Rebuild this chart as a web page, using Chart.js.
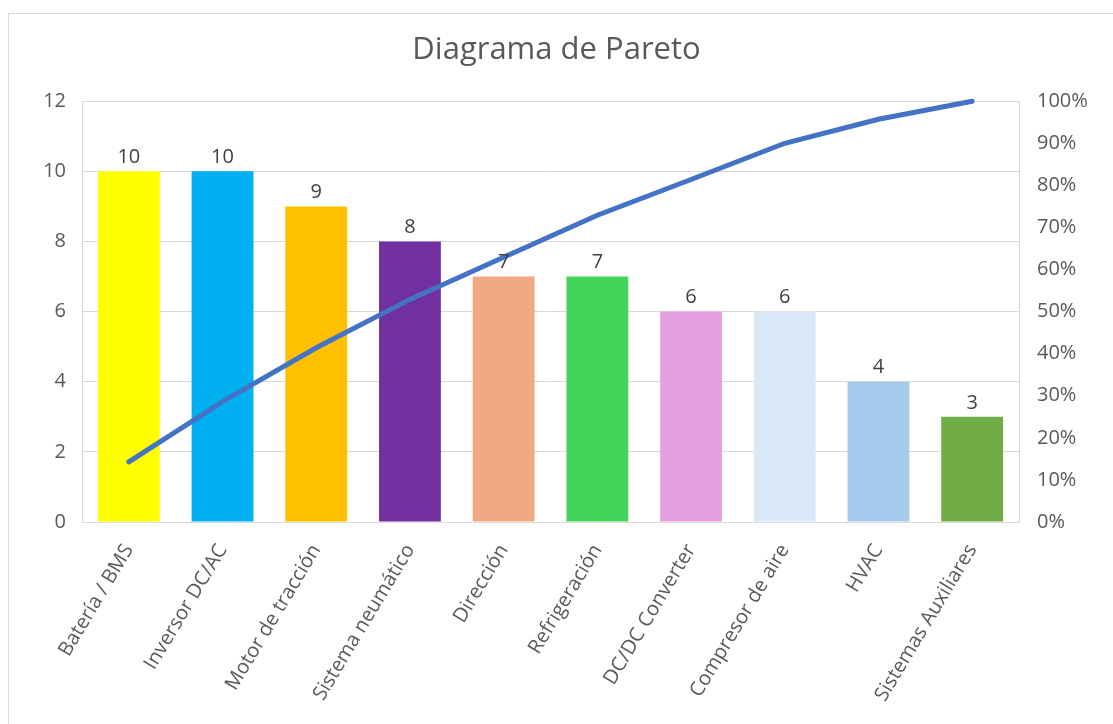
<!DOCTYPE html>
<html>
<head>
<meta charset="utf-8">
<script src="https://cdn.jsdelivr.net/npm/chart.js@4"></script>
<style>
  html, body { margin: 0; padding: 0; background: #fff; }
  #wrap { position: relative; width: 1113px; height: 724px; }
  #frame { position: absolute; left: 8px; top: 13px; width: 1120px; height: 720px;
           border-left: 1px solid #d9d9d9; border-top: 1px solid #d9d9d9; }
  canvas { position: absolute; left: 0; top: 0; }
</style>
</head>
<body>
<div id="wrap">
  <div id="frame"></div>
  <canvas id="pareto" width="1113" height="724"></canvas>
</div>
<script>
var categorias = ["Batería / BMS", "Inversor DC/AC", "Motor de tracción", "Sistema neumático",
  "Dirección", "Refrigeración", "DC/DC Converter", "Compresor de aire", "HVAC", "Sistemas Auxiliares"];
var fallas = [10, 10, 9, 8, 7, 7, 6, 6, 4, 3];
var acumulado = [14.3, 28.6, 41.4, 52.9, 62.9, 72.9, 81.4, 90.0, 95.7, 100];
var coloresBarras = ["#FFFF00", "#00B0F0", "#FFC000", "#7030A0", "#F1A983",
  "#45D45A", "#E4A0DE", "#DAE9F8", "#A6CAEC", "#70AD47"];

var gris = "#595959";
var fuente = "'Open Sans', 'DejaVu Sans', sans-serif";

// etiquetas de valor sobre cada barra
var etiquetas = {
  id: "etiquetas",
  afterDatasetsDraw: function(chart) {
    var ctx = chart.ctx;
    var meta = chart.getDatasetMeta(1);
    ctx.save();
    ctx.font = "20px " + fuente;
    ctx.fillStyle = "#404040";
    ctx.textAlign = "center";
    ctx.textBaseline = "middle";
    meta.data.forEach(function(bar, i) {
      ctx.fillText(fallas[i], bar.x, bar.y - 14);
    });
    ctx.restore();
  }
};

// borde del área de trazado
var borde = {
  id: "borde",
  beforeDatasetsDraw: function(chart) {
    var a = chart.chartArea, ctx = chart.ctx;
    ctx.save();
    ctx.strokeStyle = "#d9d9d9";
    ctx.lineWidth = 1;
    ctx.strokeRect(Math.round(a.left) + 0.5, Math.round(a.top) + 0.5,
      Math.round(a.right - a.left), Math.round(a.bottom - a.top));
    ctx.restore();
  }
};

function dibujar() {
  new Chart(document.getElementById("pareto"), {
    data: {
      labels: categorias,
      datasets: [
        {
          type: "line",
          label: "Acumulado",
          data: acumulado,
          yAxisID: "yPct",
          borderColor: "#4472C4",
          borderWidth: 5,
          borderCapStyle: "round",
          pointRadius: 0,
          tension: 0,
          clip: false,
          order: 0
        },
        {
          type: "bar",
          label: "Fallas",
          data: fallas,
          yAxisID: "y",
          backgroundColor: coloresBarras,
          categoryPercentage: 1,
          barPercentage: 0.66,
          order: 1
        }
      ]
    },
    options: {
      responsive: false,
      animation: false,
      layout: { padding: 0 },
      plugins: {
        legend: { display: false },
        tooltip: { enabled: false },
        title: {
          display: true,
          text: "Diagrama de Pareto",
          color: gris,
          font: { family: fuente, size: 31, weight: "normal" },
          padding: { top: 32, bottom: 32 }
        }
      },
      scales: {
        x: {
          grid: { display: false, drawTicks: false },
          border: { display: false },
          ticks: {
            color: gris,
            font: { family: fuente, size: 20 },
            minRotation: 59,
            maxRotation: 59,
            padding: 18,
            autoSkip: false
          },
          afterFit: function(s) { s.height = 202; }
        },
        y: {
          position: "left",
          min: 0,
          max: 12,
          grid: { color: "#d9d9d9", drawTicks: false },
          border: { display: false },
          ticks: {
            stepSize: 2,
            color: gris,
            font: { family: fuente, size: 20 },
            padding: 16
          },
          afterFit: function(s) { s.width = 82; }
        },
        yPct: {
          position: "right",
          min: 0,
          max: 100,
          grid: { display: false, drawTicks: false },
          border: { display: false },
          ticks: {
            stepSize: 10,
            color: gris,
            font: { family: fuente, size: 20 },
            padding: 18,
            callback: function(v) { return v + "%"; }
          },
          afterFit: function(s) { s.width = 94; }
        }
      }
    },
    plugins: [etiquetas, borde]
  });
}

document.fonts.load("20px 'Open Sans'").then(dibujar, dibujar);
</script>
</body>
</html>
